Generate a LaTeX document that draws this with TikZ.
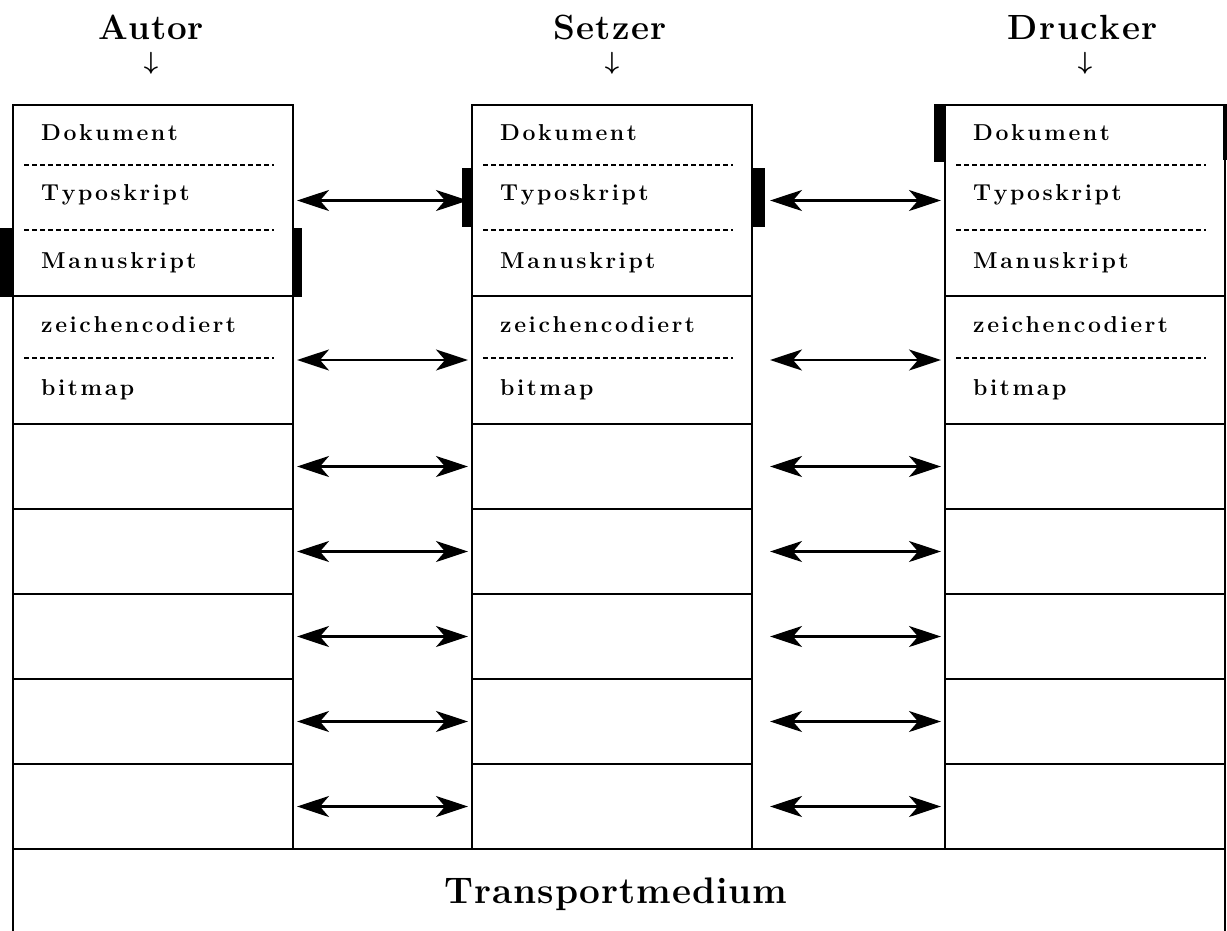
\documentclass[tikz,border=0pt]{standalone}
\usetikzlibrary{arrows.meta}

% letter-spaced text: \spread{<kern>}{<word>}
\def\lskern{0pt}
\def\lsloop#1{\ifx\relax#1\unkern\else#1\kern\lskern\relax\expandafter\lsloop\fi}
\newcommand\spread[2]{\def\lskern{#1}\lsloop#2\relax}

\tikzset{
  cell/.style={draw, line width=2.3pt, anchor=north west, minimum width=280,
               inner sep=0pt, outer sep=0pt},
  sep/.style={line width=1.5pt, dash pattern=on 5pt off 3pt},
  link/.style={line width=2.6pt, >={Stealth[length=32pt,width=21pt,inset=9pt]}, <->},
  lbl/.style={anchor=base west, inner sep=0pt, font=\fontsize{23}{27}\selectfont\bfseries},
  ttl/.style={anchor=base, inner sep=0pt, font=\fontsize{35}{40}\selectfont\bfseries},
  down/.style={inner sep=0pt, font=\fontsize{30}{34}\selectfont\boldmath},
}

\begin{document}
\begin{tikzpicture}[x=1pt, y=-1pt]
  \useasboundingbox (0,0) rectangle (1227,930);

  % the three protocol stacks
  \foreach \c/\x in {A/13,S/472,D/945}{
    \foreach \r/\t/\h in {1/105/191, 2/296/128, 3/424/85, 4/509/85,
                          5/594/85, 6/679/85, 7/764/85}{
      \node[cell, minimum height=\h] (\c\r) at (\x,\t) {};
    }
    % dashed separators inside the two upper layers
    \draw[sep] (\x+11,165) -- (\x+261,165);
    \draw[sep] (\x+11,230) -- (\x+261,230);
    \draw[sep] (\x+11,358) -- (\x+261,358);
    % layer labels
    \node[lbl] (\c-dok) at (\x+28,140) {\spread{2.6pt}{Dokument}};
    \node[lbl] (\c-typ) at (\x+28,200) {\spread{2.6pt}{Typoskript}};
    \node[lbl] (\c-man) at (\x+28,268) {\spread{2.6pt}{Manuskript}};
    \node[lbl] (\c-zei) at (\x+28,332) {\spread{2.6pt}{zeichencodiert}};
    \node[lbl] (\c-bit) at (\x+28,395) {\spread{2.6pt}{bitmap}};
  }

  % transport medium underneath
  \node[draw, line width=2.3pt, anchor=north west, minimum width=1212,
        minimum height=90, inner sep=0pt, outer sep=0pt] (T) at (13,849) {};
  \node[anchor=base, inner sep=0pt, font=\fontsize{37}{42}\selectfont\bfseries]
        (Tlbl) at (616,903) {\spread{1pt}{Transportmedium}};

  % column headings
  \node[ttl] (hA) at (151,39) {\spread{0.6pt}{Autor}};
  \node[ttl] (hS) at (610,39) {\spread{1.2pt}{Setzer}};
  \node[ttl] (hD) at (1083,39) {\spread{1.6pt}{Drucker}};
  \node[down] (dA) at (151,63) {$\downarrow$};
  \node[down] (dS) at (612,63) {$\downarrow$};
  \node[down] (dD) at (1085,63) {$\downarrow$};

  % peer-to-peer links between the stacks
  \foreach \r in {1,...,7}{
    \draw[link] ([xshift=4]A\r.east) -- ([xshift=-4]S\r.west);
    \draw[link] ([xshift=18]S\r.east) -- ([xshift=-4]D\r.west);
  }

  % marks for the active layer of each stack
  \fill (0,228) rectangle (14,297);
  \fill (292,228) rectangle (302,297);
  \fill (462,168) rectangle (473,227);
  \fill (751,168) rectangle (765,227);
  \fill (934,104) rectangle (946,162);
  \fill (1223,104) rectangle (1232,160);
\end{tikzpicture}
\end{document}
